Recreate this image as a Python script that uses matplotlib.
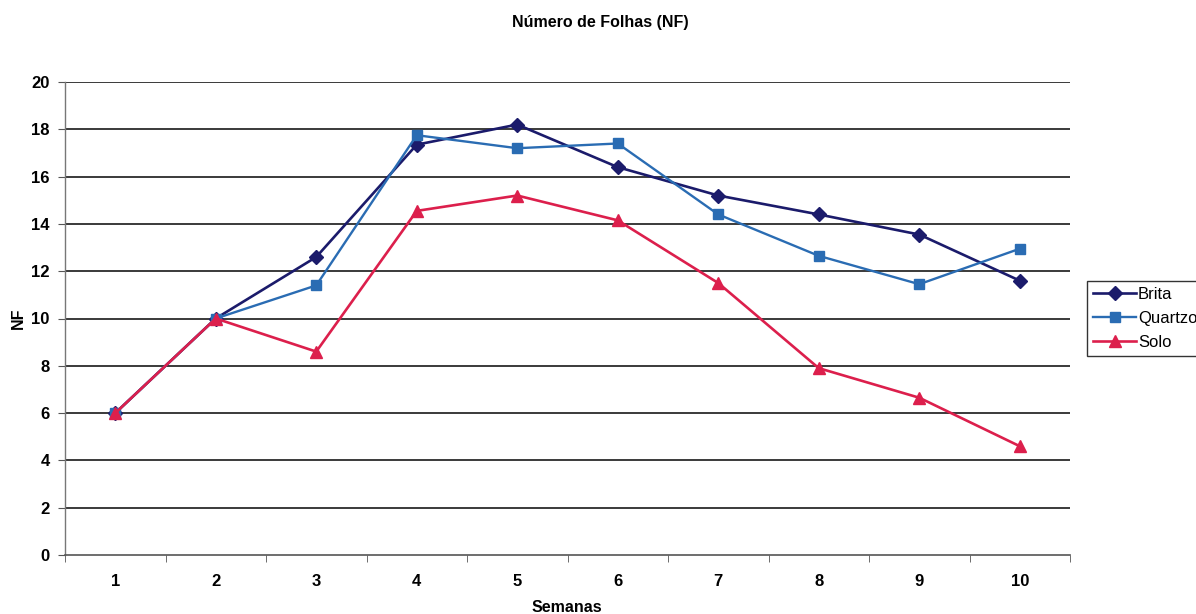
#!/usr/bin/env python3
"""
Numero de Folhas (NF) per week for three substrates.
"""

import matplotlib.pyplot as plt
from matplotlib.ticker import FixedLocator

plt.rcParams['font.family'] = ['Liberation Sans', 'DejaVu Sans']

semanas = [1, 2, 3, 4, 5, 6, 7, 8, 9, 10]
brita = [6.0, 10.0, 12.6, 17.35, 18.2, 16.4, 15.2, 14.4, 13.55, 11.6]
quartzo = [6.0, 10.0, 11.4, 17.75, 17.2, 17.4, 14.4, 12.65, 11.45, 12.95]
solo = [6.0, 10.0, 8.6, 14.55, 15.2, 14.15, 11.5, 7.9, 6.65, 4.6]
y_ticks = [0, 2, 4, 6, 8, 10, 12, 14, 16, 18, 20]


def main():
    fig = plt.figure(figsize=(11.96, 6.14), dpi=100)
    ax = fig.add_axes([65 / 1196, 59 / 614, 1005 / 1196, 473 / 614])

    # horizontal gridlines like the Excel chart
    for v in y_ticks[1:]:
        ax.axhline(v, color='#3a3a3a', linewidth=1.4, zorder=1)

    ax.plot(semanas, brita, color='#1b1b6b', marker='D', markersize=7,
            linewidth=1.9, label='Brita', zorder=2)
    ax.plot(semanas, quartzo, color='#2a6cb3', marker='s', markersize=7.5,
            linewidth=1.7, label='Quartzo', zorder=3)
    ax.plot(semanas, solo, color='#dc1f4c', marker='^', markersize=8,
            linewidth=1.9, label='Solo', zorder=4)

    ax.set_xlim(0.5, 10.5)
    ax.set_ylim(0, 20)
    ax.set_yticks(y_ticks)
    ax.set_xticks(semanas)
    ax.xaxis.set_minor_locator(FixedLocator([x + 0.5 for x in range(0, 11)]))
    ax.tick_params(axis='x', which='major', length=0, pad=14, labelsize=12)
    ax.tick_params(axis='x', which='minor', length=5, color='#555555', direction='out')
    ax.tick_params(axis='y', length=5, color='#555555', labelsize=12, pad=6)
    for lab in ax.get_xticklabels() + ax.get_yticklabels():
        lab.set_fontweight('bold')

    for side in ['top', 'right']:
        ax.spines[side].set_visible(False)
    ax.spines['left'].set_color('#777777')
    ax.spines['bottom'].set_color('#555555')
    ax.spines['left'].set_linewidth(1.0)
    ax.spines['bottom'].set_linewidth(1.2)

    fig.text(600 / 1196, 1 - 22 / 614, 'Número de Folhas (NF)', ha='center', va='center',
             fontsize=11.5, fontweight='bold')
    fig.text(18 / 1196, 1 - 318 / 614, 'NF', ha='center', va='center', rotation=90,
             fontsize=11.5, fontweight='bold')
    fig.text(567 / 1196, 1 - 607 / 614, 'Semanas', ha='center', va='center',
             fontsize=11.5, fontweight='bold')

    leg = fig.legend(loc='upper left', bbox_to_anchor=(1087 / 1196, 1 - 281 / 614),
                     fontsize=12, frameon=True, fancybox=False, edgecolor='black',
                     handlelength=2.6, handletextpad=0.1, borderpad=0.35,
                     labelspacing=0.55, borderaxespad=0)
    leg.get_frame().set_linewidth(1.0)

    fig.savefig('out.png', dpi=100)
    plt.close(fig)


if __name__ == '__main__':
    main()
